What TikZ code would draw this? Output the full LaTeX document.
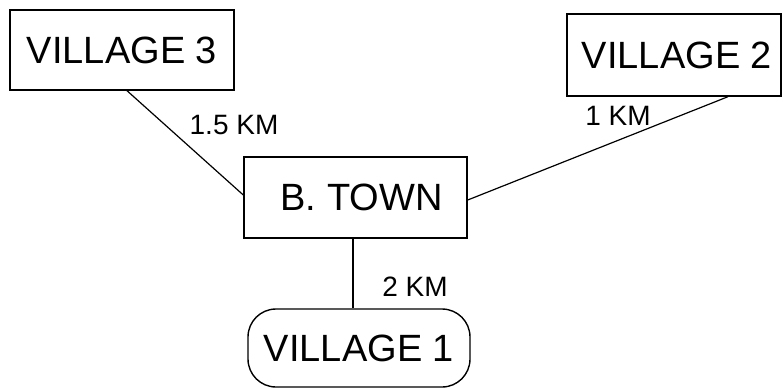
\documentclass[tikz,border=0pt]{standalone}
\usepackage{fontspec}
\setmainfont{Liberation Sans}
\begin{document}
\begin{tikzpicture}[x=1pt,y=-1pt,
  place/.style={draw,line width=1.4pt,inner sep=0pt,font=\fontsize{38}{40}\selectfont},
  dist/.style={inner sep=0pt,font=\fontsize{28}{30}\selectfont},
  link/.style={line width=1.2pt}]
\useasboundingbox (0,0) rectangle (783,388);
\node[place,minimum width=224pt,minimum height=80pt] (V3) at (122,50) {VILLAGE 3};
\node[place,minimum width=214pt,minimum height=82pt] (V2) at (674,55) {\hspace*{6pt}VILLAGE 2};
\node[place,minimum width=223pt,minimum height=81pt] (BT) at (355.5,197.5) {\hspace*{12pt}B. TOWN};
\node[place,rounded corners=28pt,minimum width=222pt,minimum height=78pt] (V1) at (359,348) {VILLAGE 1};
\node[dist] (d3) at (234,125) {1.5 KM};
\node[dist] (d2) at (618,116) {1 KM};
\node[dist] (d1) at (415,287) {2 KM};
\draw[link] ([xshift=5pt]V3.south) -- ([yshift=2.5pt]BT.west);
\draw[link] ([yshift=-2.5pt]BT.east) -- ([xshift=54pt]V2.south);
\draw[link] ([xshift=-2.5pt]BT.south) -- ([xshift=-2.5pt]BT.south |- V1.north);
\end{tikzpicture}
\end{document}
